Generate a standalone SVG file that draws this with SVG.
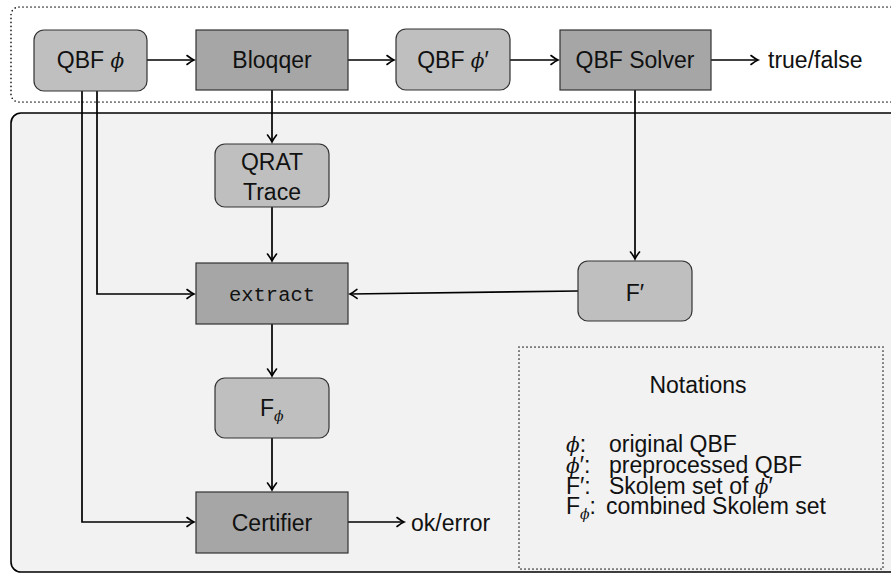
<svg xmlns="http://www.w3.org/2000/svg" width="891" height="575" viewBox="0 0 891 575">
<style>
  .t { font-family: "Liberation Sans", Arial, sans-serif; font-size: 23px; fill: #111; }
  .m { font-family: "DejaVu Serif", "Liberation Serif", serif; font-style: italic; font-size: 20px; }
  .sub { font-family: "DejaVu Serif", "Liberation Serif", serif; font-style: italic; font-size: 14px; }
  .mono { font-family: "Liberation Mono", "DejaVu Sans Mono", monospace; font-size: 20.5px; fill: #111; }
  .light { fill: #bfbfbf; stroke: #333; stroke-width: 1.2; }
  .dark { fill: #a6a6a6; stroke: #333; stroke-width: 1.2; }
  .dot { fill: none; stroke: #222; stroke-width: 1.7; stroke-dasharray: 0 4; stroke-linecap: round; }
  .c { fill: none; stroke: #000; stroke-width: 1.7; marker-end: url(#ah); }
</style>
<defs>
  <marker id="ah" markerWidth="12" markerHeight="12" refX="0" refY="0" viewBox="-9 -6 11 12" orient="auto" markerUnits="userSpaceOnUse">
    <path d="M -7 -4.5 Q -2.5 -1 0 0 Q -2.5 1 -7 4.5" fill="none" stroke="#000" stroke-width="1.6" stroke-linecap="round"/>
  </marker>
</defs>
<rect width="891" height="575" fill="#fff"/>
<g id="frames">
  <rect class="dot" x="11" y="7" width="900" height="95" rx="8"/>
  <rect x="11" y="113" width="900" height="459" rx="10" fill="#f2f2f2" stroke="#000" stroke-width="1.6"/>
  <rect class="dot" x="519" y="347" width="364" height="222"/>
</g>
<g id="connectors">
  <path class="c" d="M147 60 H194"/>
  <path class="c" d="M348 60 H394"/>
  <path class="c" d="M510 60 H558"/>
  <path class="c" d="M711 60 H758"/>
  <path class="c" d="M272 90 V142"/>
  <path class="c" d="M272 207 V261"/>
  <path class="c" d="M97 91 V294 H194"/>
  <path class="c" d="M578 291 L350 294"/>
  <path class="c" d="M635 90 V259"/>
  <path class="c" d="M272 324 V376"/>
  <path class="c" d="M272 438 V490"/>
  <path class="c" d="M82 91 V522 H194"/>
  <path class="c" d="M348 522 H404"/>
</g>
<g id="qbf-phi">
  <rect class="light" x="34" y="30" width="113" height="61" rx="10"/>
  <text class="t" x="90.5" y="68" text-anchor="middle">QBF <tspan class="m">ϕ</tspan></text>
</g>
<g id="bloqqer">
  <rect class="dark" x="196" y="30" width="152" height="60"/>
  <text class="t" x="272" y="68" text-anchor="middle">Bloqqer</text>
</g>
<g id="qbf-phi-prime">
  <rect class="light" x="396" y="29" width="114" height="61" rx="10"/>
  <text class="t" x="453" y="68" text-anchor="middle">QBF <tspan class="m">ϕ</tspan><tspan>′</tspan></text>
</g>
<g id="qbf-solver">
  <rect class="dark" x="560" y="30" width="151" height="60"/>
  <text class="t" x="635" y="68" text-anchor="middle">QBF Solver</text>
</g>
<g id="true-false">
  <text class="t" x="768" y="68">true/false</text>
</g>
<g id="qrat-trace">
  <rect class="light" x="215" y="144" width="114" height="63" rx="10"/>
  <text class="t" x="272" y="170" text-anchor="middle">QRAT</text>
  <text class="t" x="272" y="199.5" text-anchor="middle">Trace</text>
</g>
<g id="extract">
  <rect class="dark" x="196" y="263" width="152" height="61"/>
  <text class="mono" x="272" y="300.5" text-anchor="middle">extract</text>
</g>
<g id="f-prime">
  <rect class="light" x="578" y="261" width="114" height="60" rx="10"/>
  <text class="t" x="635" y="301" text-anchor="middle">F′</text>
</g>
<g id="f-phi">
  <rect class="light" x="215" y="378" width="114" height="60" rx="10"/>
  <text class="t" x="260" y="415.5">F<tspan class="sub" dy="5">ϕ</tspan></text>
</g>
<g id="certifier">
  <rect class="dark" x="196" y="492" width="152" height="61"/>
  <text class="t" x="272" y="531" text-anchor="middle">Certifier</text>
</g>
<g id="ok-error">
  <text class="t" x="411" y="531">ok/error</text>
</g>
<g id="notations">
  <text class="t" x="698" y="393" text-anchor="middle">Notations</text>
  <text class="t" x="566" y="452"><tspan class="m">ϕ</tspan>:</text>
  <text class="t" x="609" y="452">original QBF</text>
  <text class="t" x="566" y="473"><tspan class="m">ϕ</tspan><tspan>′:</tspan></text>
  <text class="t" x="609" y="473">preprocessed QBF</text>
  <text class="t" x="566" y="494">F′:</text>
  <text class="t" x="609" y="494">Skolem set of <tspan class="m">ϕ</tspan><tspan>′</tspan></text>
  <text class="t" x="566" y="514">F<tspan class="sub" dy="5">ϕ</tspan><tspan dy="-5">:</tspan></text>
  <text class="t" x="606" y="514">combined Skolem set</text>
</g>
</svg>
